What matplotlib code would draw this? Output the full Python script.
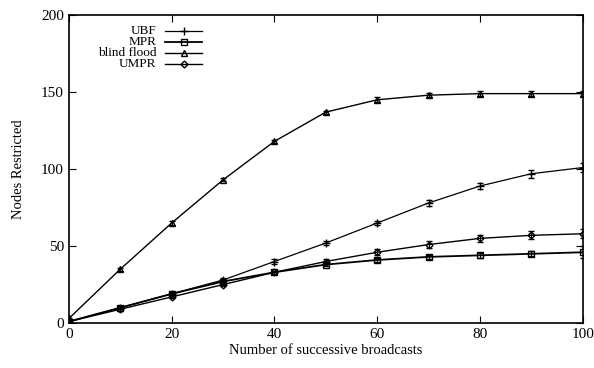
import numpy as np
import matplotlib
matplotlib.use("Agg")
import matplotlib.pyplot as plt

plt.rcParams['font.family'] = ['Liberation Serif', 'DejaVu Serif']

broadcasts = [0, 10, 20, 30, 40, 50, 60, 70, 80, 90, 100]
ubf = [1, 10, 19, 28, 40, 52, 65, 78, 89, 97, 101]
mpr = [1, 10, 19, 27, 33, 38, 41, 43, 44, 45, 46]
blind_flood = [3, 35, 65, 93, 118, 137, 145, 148, 149, 149, 149]
umpr = [1, 9, 17, 25, 33, 40, 46, 51, 55, 57, 58]
ubf_err = [0.5, 1, 1, 1, 1.5, 1.5, 1.5, 2, 2, 2.5, 3]
mpr_err = [0.5, 1, 1, 1, 1, 1, 1.5, 1.5, 1.5, 1.5, 4]
flood_err = [0.5, 1, 1, 1, 1, 1, 1.5, 1.5, 1.5, 1.5, 1.5]
umpr_err = [0.5, 1, 1, 1, 1, 1.5, 2, 2, 2.5, 2.5, 3]
labels = ["UBF", "MPR", "blind flood", "UMPR"]

fig = plt.figure(figsize=(5.94, 3.68), dpi=100)
ax = fig.add_axes([0.116, 0.122, 0.865, 0.837])

series = [
    (ubf, ubf_err, "+", 6, 0.9),
    (mpr, mpr_err, "s", 5, 1.3),
    (blind_flood, flood_err, "^", 5, 1.0),
    (umpr, umpr_err, "D", 3.5, 1.0),
]
for (vals, err, mk, ms, lw) in series:
    ax.errorbar(broadcasts, vals, yerr=err, color="black", lw=lw, marker=mk,
                ms=ms, mfc="none", mec="black", mew=1.0, capsize=2.5,
                elinewidth=0.8)

ax.set_xlim(0, 100)
ax.set_ylim(0, 200)
ax.set_xticks([0, 20, 40, 60, 80, 100])
ax.set_yticks([0, 50, 100, 150, 200])
ax.tick_params(direction="in", top=True, right=True, length=5, labelsize=11)
for sp in ax.spines.values():
    sp.set_linewidth(1.2)
ax.set_xlabel("Number of successive broadcasts", fontsize=10.5, labelpad=2)
ax.set_ylabel("Nodes Restricted", fontsize=10.5, labelpad=12)

# gnuplot-style key: right-aligned labels, sample to the right
for i, ((vals, err, mk, ms, lw), lab) in enumerate(zip(series, labels)):
    yk = 0.948 - i * 0.036
    ax.text(0.170, yk, lab, transform=ax.transAxes, ha="right", va="center",
            fontsize=9.5)
    ax.plot([0.187, 0.260], [yk, yk], transform=ax.transAxes, color="black", lw=lw)
    ax.plot([0.2235], [yk], transform=ax.transAxes, marker=mk, ms=ms,
            mfc="none", mec="black", mew=1.0, color="black")

fig.savefig("out.png", dpi=100)
